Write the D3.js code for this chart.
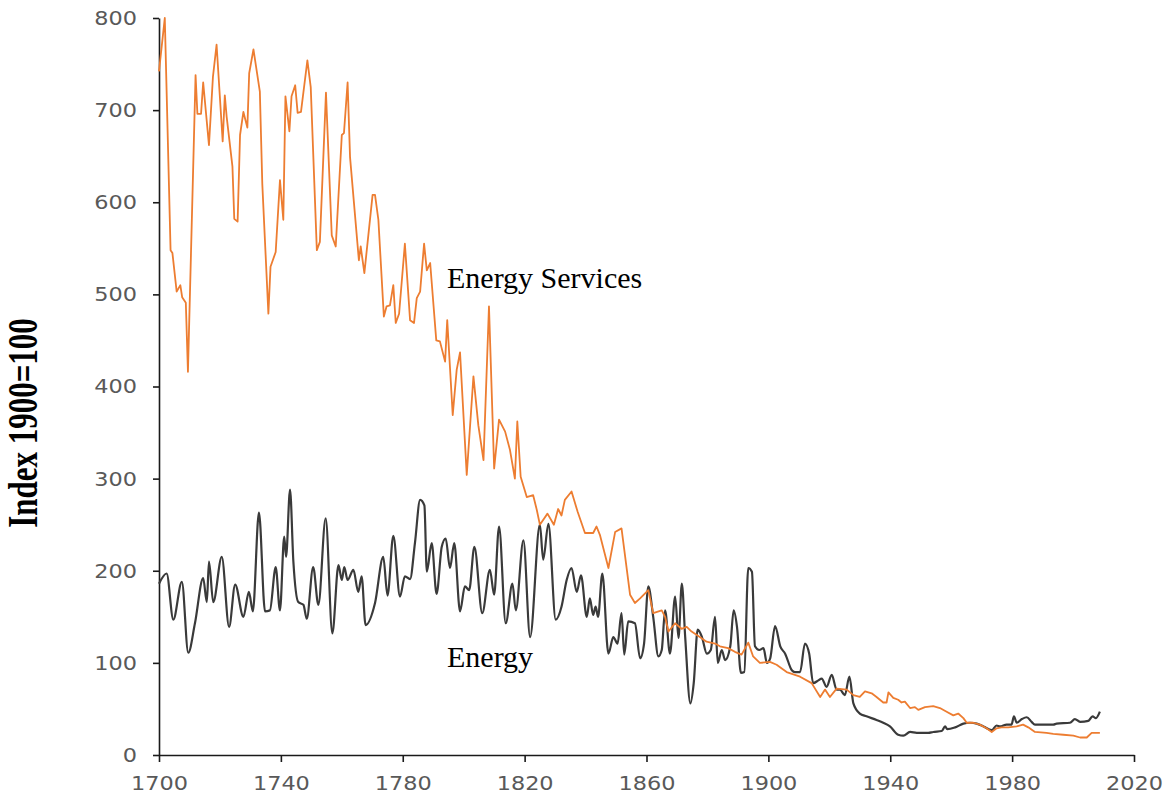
<!DOCTYPE html>
<html>
<head>
<meta charset="utf-8">
<script src="https://cdn.jsdelivr.net/npm/d3@7"></script>
<style>
  body { margin: 0; background: #fff; }
  svg { display: block; }
</style>
</head>
<body>
<svg id="chart" width="1171" height="808"></svg>
<script>
// Energy services index (year, index 1900=100)
const servicesYears = [1700,1701.9,1703.8,1704.4,1705.8,1707,1707.6,1708.8,1709.5,1712,1712.6,1713.8,1714.5,1716.4,1717.7,1718.9,1720.9,1721.6,1722.2,1724.1,1724.7,1725.8,1726.6,1727.7,1729,1729.6,1731,1733.1,1733.9,1735.9,1736.6,1738.3,1739.7,1740.8,1741.5,1742.8,1743.5,1744.7,1745.5,1746.6,1748.7,1749.8,1751.8,1752.8,1754.8,1756.7,1758,1760,1760.7,1761.9,1762.7,1765.6,1766.2,1767.4,1770.1,1770.9,1772,1773.8,1774.7,1775.8,1776.9,1777.7,1778.8,1780.7,1782.4,1783.7,1784.6,1785.7,1787,1787.9,1789,1791,1792.2,1793.9,1794.6,1796.4,1797.7,1798.8,1801,1803.2,1804.8,1806.5,1808.3,1810,1811.6,1813.6,1815.2,1816.8,1817.6,1818.7,1820.7,1822.8,1824,1825,1827.5,1829.6,1831,1832.1,1833.2,1835.4,1837.4,1839.8,1842.5,1843.6,1844.7,1847.5,1849.7,1851.8,1854.6,1856.2,1857.9,1860.6,1862.2,1865,1866.1,1867.2,1869.4,1871.5,1873.2,1874.8,1877.5,1879.7,1882.5,1884.1,1886.8,1889,1891.2,1893.4,1895,1897.2,1900.5,1902.7,1906,1910.4,1914.2,1917,1918.6,1920.2,1922.4,1925.7,1927.9,1930,1931.7,1933.9,1935.5,1937.7,1938.8,1939.4,1941,1942.6,1943.7,1944.8,1946.5,1948.1,1949.2,1951.4,1954.1,1956.3,1958.5,1960.7,1962.3,1964,1965.1,1967.3,1969.4,1971.6,1973.3,1974.9,1976.5,1978.7,1981.5,1983.6,1985.3,1987.5,1991.3,1993.5,1996.8,2000.1,2002.3,2004.5,2006.1,2008.8];
const servicesIndex = [742,800,548,545,503,510,497,491,416,738,696,696,730,662,736,771,666,716,693,639,582,579,673,698,681,740,766,720,620,479,530,546,624,581,715,677,715,727,697,698,754,725,548,557,719,564,552,673,675,730,649,537,552,523,608,608,581,476,487,488,510,469,479,555,472,469,496,503,555,526,534,450,449,427,472,369,418,437,304,411,358,320,487,311,364,351,331,300,362,302,280,282,266,250,262,250,267,260,277,286,264,241,241,248,239,203,242,246,174,165,170,179,154,157,150,134,143,137,139,134,128,123,121,118,116,112,109,122,107,100,101,98,90,85,78,63,71,63,72,71,65,63,69,67,63,57,57,68,62,60,57,58,51,52,49,52,53,51,47,43,45,40,35,35,33,29,25,29,30,30,31,33,30,25,24,23,22,21,19,19,24,24];

// Energy index
const energyYears = [1700,1702.5,1704.7,1707.5,1709.6,1711.8,1714.5,1715.7,1716.4,1717.8,1720.6,1723,1725,1727.7,1729.5,1730.8,1732.8,1734.8,1736.4,1738.3,1739.7,1741.1,1741.7,1743,1744.1,1745.7,1747.4,1748.5,1750.6,1752.3,1754.7,1756.9,1758.9,1760,1760.8,1761.9,1763.8,1765.4,1766.5,1767.8,1770.9,1773.6,1775,1776.9,1779.1,1780.7,1782.4,1784,1785.7,1787.1,1787.9,1789.5,1791.1,1792.8,1794.1,1795.5,1796.9,1798.8,1800.4,1801.8,1803.5,1806.1,1808.6,1810,1811.6,1813.8,1816,1817.1,1819.6,1821.8,1825,1826.1,1827.8,1830.2,1832.1,1833.8,1835.4,1837.1,1838.5,1840.4,1841.4,1842.5,1843.3,1844.1,1845.5,1847.5,1849.1,1850.5,1851.8,1852.7,1854,1856.2,1857.9,1859.2,1860.6,1862.2,1863.9,1865,1866.1,1867.7,1869.4,1870.5,1871.6,1872.7,1874.4,1875.5,1876.8,1878.2,1879.8,1881.1,1882.5,1883.4,1884.7,1885.8,1887.5,1888.6,1889.7,1891,1892.1,1893.4,1894.6,1895.6,1897,1898.4,1899.5,1900.6,1902.2,1903.9,1905.5,1907.7,1908.7,1910.4,1912,1913.4,1914.7,1916.4,1917.5,1919.1,1920.8,1922.4,1923.5,1925.1,1926.6,1927.9,1930,1932.2,1935.5,1937.7,1939.9,1942.6,1944.3,1946.5,1948.7,1952.5,1954.1,1956.9,1958,1958.7,1961.3,1964,1966.2,1968.4,1970.6,1973.3,1974.9,1976,1978.2,1979.8,1980.6,1981.5,1983.2,1984.8,1986.4,1987.5,1993.5,1994.6,1999,2000.6,2002.3,2005,2006.4,2007.5,2008.8];
const energyIndex = [186,197,147,188,111,143,192,166,210,166,215,139,185,150,177,156,263,156,157,204,157,237,215,288,210,166,163,148,204,163,257,132,206,190,204,190,201,177,194,141,165,215,173,238,172,194,191,230,277,271,199,230,175,226,235,203,230,156,183,179,226,154,201,174,248,143,186,157,233,128,250,212,251,147,161,190,203,177,195,150,170,152,161,150,197,110,128,121,154,109,145,143,105,121,183,150,107,114,157,110,172,127,186,128,56,78,136,128,110,114,150,100,114,103,118,157,139,89,90,203,199,118,114,116,100,105,140,118,110,92,90,90,121,110,78,81,83,74,87,71,71,65,85,56,45,42,38,35,31,22,21,25,24,24,25,26,31,28,30,34,35,34,31,27,32,31,33,33,42,35,39,41,36,33,33,34,35,39,36,37,42,40,47];

const xTicks = [1700,1740,1780,1820,1860,1900,1940,1980,2020];
const yTicks = [0,100,200,300,400,500,600,700,800];

const svg = d3.select("#chart");
const x = d3.scaleLinear().domain([1700, 2020]).range([159, 1134]);
const y = d3.scaleLinear().domain([0, 800]).range([755, 18]);

svg.append("rect").attr("width", 1171).attr("height", 808).attr("fill", "#fff");

// axes
const xAxis = svg.append("g")
   .attr("transform", "translate(0,755)")
   .call(d3.axisBottom(x).tickValues(xTicks).tickFormat(d3.format("d")).tickSizeInner(7).tickSizeOuter(0).tickPadding(14));
const yAxis = svg.append("g")
   .attr("transform", "translate(159,0)")
   .call(d3.axisLeft(y).tickValues(yTicks).tickSizeInner(6).tickSizeOuter(0).tickPadding(16));

svg.selectAll(".domain, .tick line").attr("stroke", "#1a1a1a").attr("stroke-width", 1.6);
svg.selectAll(".tick text")
   .attr("fill", "#595959")
   .style("font-family", "'DejaVu Sans', Verdana, sans-serif")
   .style("font-size", "20px");
// the tick labels in the picture are stretched sideways
xAxis.selectAll(".tick text").attr("transform", "scale(1.12,1)");
yAxis.selectAll(".tick text").attr("x", -22 / 1.12).attr("transform", "scale(1.12,1)");

svg.append("text")
   .attr("transform", "translate(37,423) rotate(-90) scale(1,1.35)")
   .attr("text-anchor", "middle")
   .style("font-family", "'Liberation Serif', 'Times New Roman', serif")
   .style("font-weight", "bold")
   .style("font-size", "31px")
   .attr("fill", "#000")
   .text("Index 1900=100");

// lines
const servicesData = servicesYears.map((yr, i) => [yr, servicesIndex[i]]);
const energyData = energyYears.map((yr, i) => [yr, energyIndex[i]]);

svg.append("path")
   .datum(energyData)
   .attr("fill", "none")
   .attr("stroke", "#3a3a3a")
   .attr("stroke-width", 2.2)
   .attr("stroke-linejoin", "round")
   .attr("d", d3.line().x(d => x(d[0])).y(d => y(d[1])).curve(d3.curveMonotoneX));

svg.append("path")
   .datum(servicesData)
   .attr("fill", "none")
   .attr("stroke", "#ED7D31")
   .attr("stroke-width", 1.8)
   .attr("stroke-linejoin", "round")
   .attr("d", d3.line().x(d => x(d[0])).y(d => y(d[1])));

// series labels
const labelFont = "'Liberation Serif', 'Times New Roman', serif";
svg.append("text").attr("x", 447).attr("y", 288)
   .style("font-family", labelFont).style("font-size", "30px").attr("fill", "#000")
   .text("Energy Services");
svg.append("text").attr("x", 447).attr("y", 667)
   .style("font-family", labelFont).style("font-size", "30px").attr("fill", "#000")
   .text("Energy");
</script>
</body>
</html>
